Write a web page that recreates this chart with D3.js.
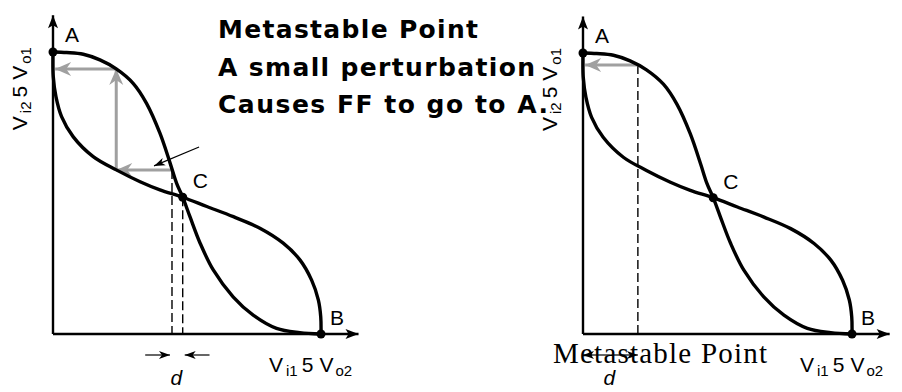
<!DOCTYPE html>
<html>
<head>
<meta charset="utf-8">
<script src="https://cdn.jsdelivr.net/npm/d3@7"></script>
<style>
  body { margin: 0; background: #fff; }
  svg { display: block; }
</style>
</head>
<body>
<svg id="drawing_region"></svg>
<script>
// transfer curves in normalised units (x = Vi1 = Vo2, y = Vi2 = Vo1)
const curve1 = [[0,1],[0.051,0.998],[0.113,0.992],[0.175,0.972],[0.236,0.940],[0.299,0.889],
    [0.349,0.818],[0.399,0.712],[0.437,0.606],[0.461,0.535],[0.484,0.485],[0.511,0.416],
    [0.549,0.322],[0.598,0.227],[0.672,0.132],[0.747,0.067],[0.834,0.020],[0.921,0.005],[1,0]];
const curve2 = [[0,1],[0.001,0.913],[0.011,0.842],[0.032,0.771],[0.075,0.700],[0.150,0.629],
    [0.236,0.582],[0.325,0.540],[0.399,0.511],[0.484,0.485],[0.574,0.452],[0.673,0.416],
    [0.772,0.375],[0.859,0.322],[0.922,0.262],[0.965,0.191],[0.990,0.121],[0.999,0.061],[1,0]];
const pointNames = ['A','B','C'];
const pointValues = [[0,1],[1,0],[0.484,0.485]];
// grey trajectory after the perturbation
const cobwebLeft = [[0.444,0.582],[0.236,0.582],[0.236,0.940],[0.008,0.940]];
const cobwebRight = [[0.204,0.957],[0.008,0.957]];
const dashLeft = [0.444, 0.484];
const dashRight = [0.204];
const pointerLeft = [[0.545,0.663],[0.377,0.596]];
const titleLines = ['Metastable Point','A small perturbation','Causes FF to go to A.'];

const svg = d3.select('#drawing_region')
    .attr('width', 902)
    .attr('height', 392);

const defs = svg.append('defs');
function marker(id, color, len, half, notch) {
    defs.append('marker')
        .attr('id', id)
        .attr('viewBox', `${-len-1} ${-half-1} ${len+2} ${2*half+2}`)
        .attr('refX', 0).attr('refY', 0)
        .attr('markerUnits', 'userSpaceOnUse')
        .attr('markerWidth', len+2).attr('markerHeight', 2*half+2)
        .attr('orient', 'auto')
        .append('path')
        .attr('d', `M0,0L${-len},${-half}L${-len+notch},0L${-len},${half}Z`)
        .attr('fill', color);
}
marker('axis_head', '#000', 13, 5, 3);
marker('grey_head', '#a0a0a0', 16, 7, 5);
marker('small_head', '#000', 11, 4, 3);

class Butterfly {

    constructor( config ) {
        this.config = config;
        this.init();
    }

    init() {
        let self = this;
        const c = self.config;
        self.chart = svg.append('g');
        self.xscale = d3.scaleLinear().domain([0,1]).range([c.left, c.left + c.width]);
        self.yscale = d3.scaleLinear().domain([0,1]).range([c.bottom, c.bottom - c.height]);
        self.line = d3.line()
            .x( d => self.xscale(d[0]) )
            .y( d => self.yscale(d[1]) )
            .curve( d3.curveCatmullRom.alpha(0.5) );
    }

    render() {
        let self = this;
        const c = self.config;
        const xs = self.xscale, ys = self.yscale;

        // axes
        self.chart.append('line')
            .attr('x1', xs(0)).attr('y1', ys(0))
            .attr('x2', xs(1.14)).attr('y2', ys(0))
            .attr('stroke', '#000').attr('stroke-width', 2.4)
            .attr('marker-end', 'url(#axis_head)');
        self.chart.append('line')
            .attr('x1', xs(0)).attr('y1', ys(0))
            .attr('x2', xs(0)).attr('y2', ys(1.13))
            .attr('stroke', '#000').attr('stroke-width', 2.4)
            .attr('marker-end', 'url(#axis_head)');

        // dashed verticals
        c.dashes.forEach( (v, i) => {
            const top = i == 0 ? c.cobweb[0][1] : pointValues[2][1];
            self.chart.append('line')
                .attr('x1', xs(v)).attr('y1', ys(top))
                .attr('x2', xs(v)).attr('y2', ys(0))
                .attr('stroke', '#000').attr('stroke-width', 1.4)
                .attr('stroke-dasharray', '9,4');
        });

        // grey trajectory
        d3.pairs(c.cobweb).forEach( p => {
            self.chart.append('line')
                .attr('x1', xs(p[0][0])).attr('y1', ys(p[0][1]))
                .attr('x2', xs(p[1][0])).attr('y2', ys(p[1][1]))
                .attr('stroke', '#a0a0a0').attr('stroke-width', 3)
                .attr('marker-end', 'url(#grey_head)');
        });

        // transfer curves
        [curve1, curve2].forEach( d => {
            self.chart.append('path')
                .attr('d', self.line(d))
                .attr('fill', 'none')
                .attr('stroke', '#000')
                .attr('stroke-width', 3.4);
        });

        if (c.pointer) {
            self.chart.append('line')
                .attr('x1', xs(c.pointer[0][0])).attr('y1', ys(c.pointer[0][1]))
                .attr('x2', xs(c.pointer[1][0])).attr('y2', ys(c.pointer[1][1]))
                .attr('stroke', '#000').attr('stroke-width', 1.2)
                .attr('marker-end', 'url(#small_head)');
        }

        // points
        self.chart.selectAll('circle')
            .data(pointValues)
            .enter()
            .append('circle')
            .attr('cx', d => xs(d[0]))
            .attr('cy', d => ys(d[1]))
            .attr('r', 4.5)
            .attr('fill', '#000');

        const offs = [[12,-10],[9,-9],[10,-9]];
        self.chart.selectAll('text.pt')
            .data(pointNames)
            .enter()
            .append('text')
            .attr('class', 'pt')
            .attr('x', (d,i) => xs(pointValues[i][0]) + offs[i][0])
            .attr('y', (d,i) => ys(pointValues[i][1]) + offs[i][1])
            .attr('font-family', 'Liberation Sans, Arial, sans-serif')
            .attr('font-size', '21px')
            .text(d => d);

        // d marker
        const dy = ys(0) + 21;
        if (c.inward) {
            [[c.dashes[0] - 0.1, c.dashes[0]], [c.dashes[1] + 0.1, c.dashes[1]]].forEach( p => {
                self.chart.append('line')
                    .attr('x1', xs(p[0])).attr('y1', dy)
                    .attr('x2', xs(p[1]) + (p[1] > p[0] ? -2 : 2)).attr('y2', dy)
                    .attr('stroke', '#000').attr('stroke-width', 1.2)
                    .attr('marker-end', 'url(#small_head)');
            });
        } else {
            const m = c.dashes[0] / 2;
            [[m, 0], [m, c.dashes[0]]].forEach( p => {
                self.chart.append('line')
                    .attr('x1', xs(p[0])).attr('y1', dy)
                    .attr('x2', xs(p[1])).attr('y2', dy)
                    .attr('stroke', '#000').attr('stroke-width', 1.2)
                    .attr('marker-end', 'url(#small_head)');
            });
        }
        const dmid = c.inward ? (c.dashes[0] + c.dashes[1]) / 2 : c.dashes[0] / 2;
        self.chart.append('text')
            .attr('x', xs(dmid) - 1)
            .attr('y', ys(0) + 51)
            .attr('text-anchor', 'middle')
            .attr('font-family', 'Liberation Sans, Arial, sans-serif')
            .attr('font-style', 'italic')
            .attr('font-size', '21px')
            .text('d');

        // axis labels
        const xl = self.chart.append('text')
            .attr('x', xs(1) - 52)
            .attr('y', ys(0) + 38)
            .attr('font-family', 'Liberation Sans, Arial, sans-serif')
            .attr('font-size', '21px');
        self.label(xl, 'i1', 'o2');

        const yl = self.chart.append('text')
            .attr('transform', `translate(${xs(0) - 26}, ${ys(0.87)}) rotate(-90)`)
            .attr('text-anchor', 'middle')
            .attr('font-family', 'Liberation Sans, Arial, sans-serif')
            .attr('font-size', '21px');
        self.label(yl, 'i2', 'o1');
    }

    label( t, a, b ) {
        t.append('tspan').text('V');
        t.append('tspan').attr('dx', 3).attr('dy', 4).attr('font-size', '15px').text(a);
        t.append('tspan').attr('dx', 4).attr('dy', -4).text('5');
        t.append('tspan').attr('dx', 6).text('V');
        t.append('tspan').attr('dx', 2).attr('dy', 4).attr('font-size', '15px').text(b);
    }
}

const left = new Butterfly({ left: 53, bottom: 334, width: 268, height: 282,
    cobweb: cobwebLeft, dashes: dashLeft, pointer: pointerLeft, inward: true });
left.render();
const right = new Butterfly({ left: 583, bottom: 334, width: 269, height: 281,
    cobweb: cobwebRight, dashes: dashRight, pointer: null, inward: false });
right.render();

// title block
const lens = [260, 317, 330];
svg.selectAll('text.title')
    .data(titleLines)
    .enter()
    .append('text')
    .attr('class', 'title')
    .attr('x', 218)
    .attr('y', (d,i) => 38 + i * 37.5)
    .attr('font-family', "'DejaVu Sans', sans-serif")
    .attr('font-weight', 'bold')
    .attr('font-size', '25px')
    .attr('textLength', (d,i) => lens[i])
    .attr('lengthAdjust', 'spacing')
    .text(d => d);

svg.append('text')
    .attr('x', 553)
    .attr('y', 363)
    .attr('font-family', "'Liberation Serif', 'Times New Roman', serif")
    .attr('font-size', '29px')
    .attr('textLength', 214)
    .text('Metastable Point');
</script>
</body>
</html>
